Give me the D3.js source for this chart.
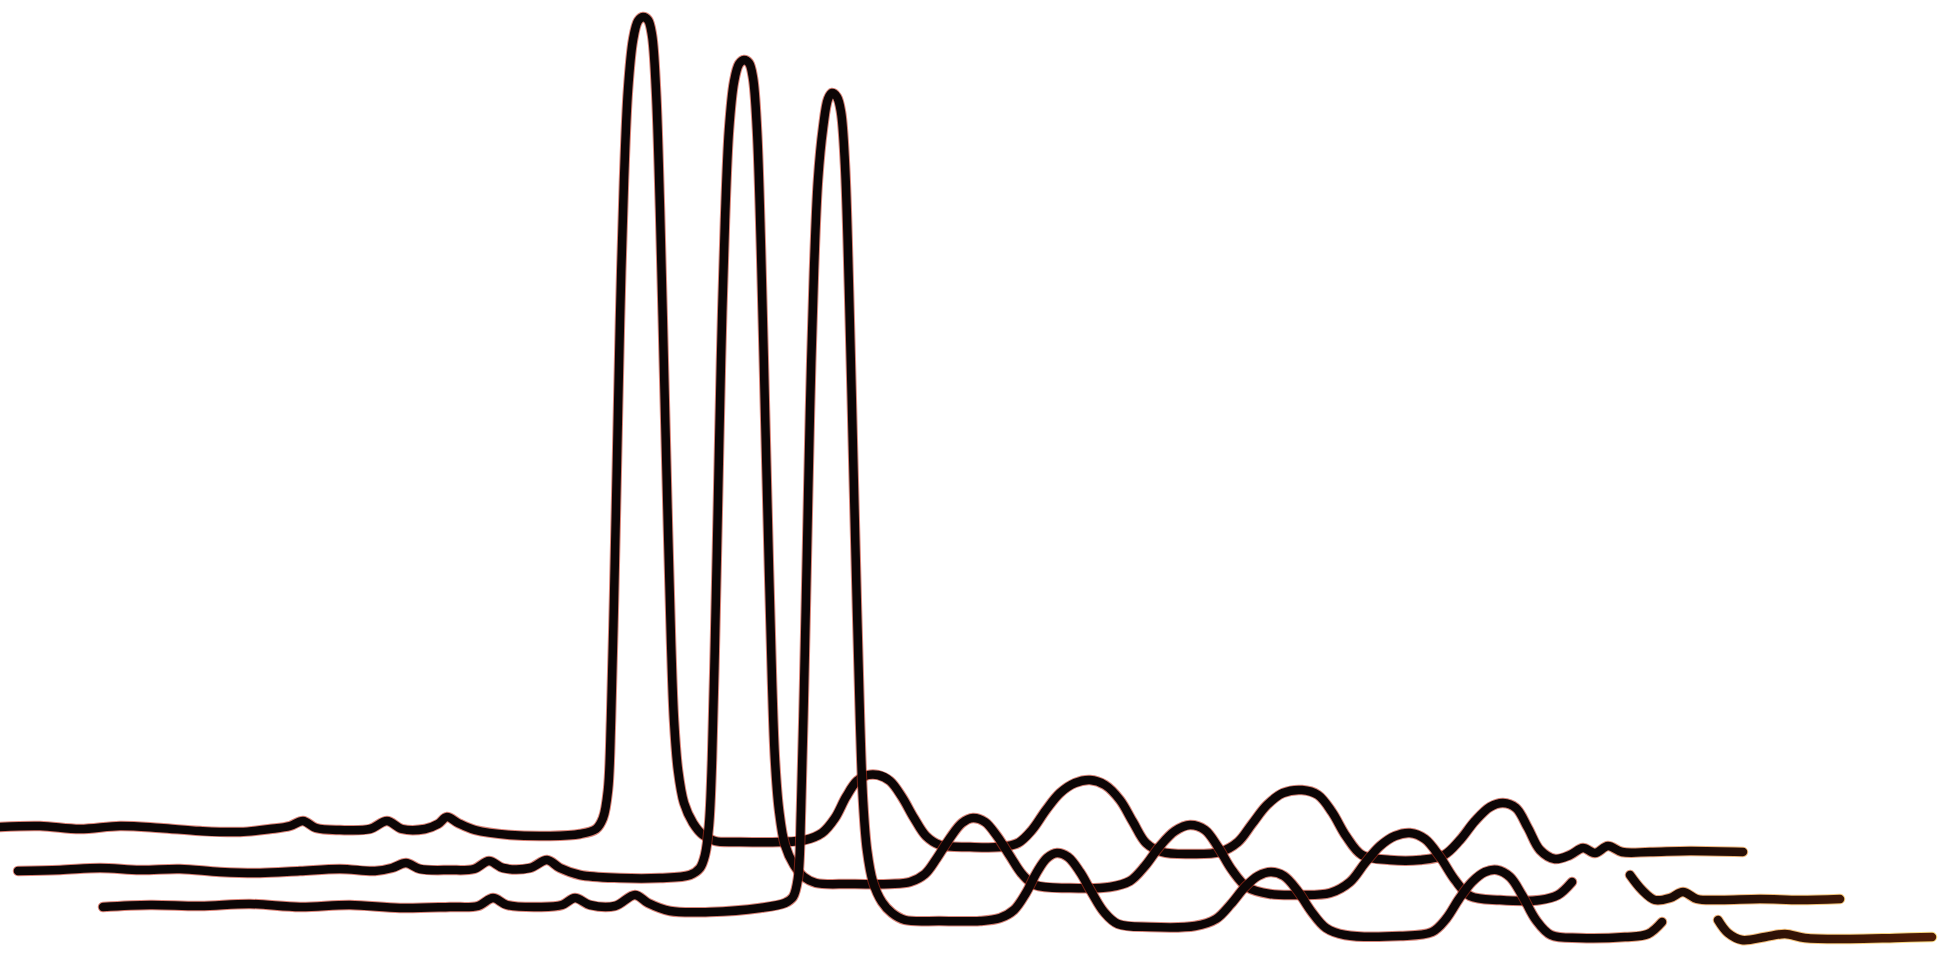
<!DOCTYPE html>
<html>
<head>
<meta charset="utf-8">
<title>Stacked chromatograms</title>
<script src="https://cdn.jsdelivr.net/npm/d3@7"></script>
<style>
  html, body { margin: 0; padding: 0; background: #ffffff; }
  svg { display: block; }
</style>
</head>
<body>
<svg id="chart" width="1954" height="960"></svg>
<script>
// time (arbitrary units) and detector signal for each run, signal relative to its own baseline
const run1 = [
  [0, 0], [2, 1], [4, -2], [6, 1], [8, -1], [10, -4], [12, -5], [13.5, -2], [14.5, 1],
  [15.15, 6], [15.8, -1], [17, -3], [18.5, -2], [19.35, 6], [20.1, -2], [21.25, -2],
  [21.9, 3], [22.35, 10], [22.9, 4], [23.75, -3], [25.5, -8], [27.5, -9], [29, -7],
  [29.8, -2], [30.15, 9], [30.4, 37], [30.55, 107], [30.7, 227], [30.85, 367], [31, 507],
  [31.2, 647], [31.4, 737], [31.65, 787], [31.9, 806], [32.15, 810], [32.4, 807],
  [32.6, 792], [32.8, 737], [33, 617], [33.2, 457], [33.4, 297], [33.55, 187],
  [33.7, 107], [33.9, 57], [34.2, 24], [34.65, 4], [35.15, -8], [35.75, -14], [37, -15],
  [39, -15], [40.25, -13], [41.1, -6], [41.75, 9], [42.3, 30], [42.85, 46], [43.4, 52],
  [43.9, 52], [44.5, 46], [45.1, 30], [45.7, 9], [46.3, -9], [47, -18], [48.5, -20],
  [50, -20], [50.9, -16], [51.6, -3], [52.3, 17], [53, 34], [53.75, 44], [54.5, 47],
  [55.25, 42], [56, 27], [56.65, 5], [57.3, -16], [58.1, -25], [59.5, -27], [61, -25],
  [61.9, -15], [62.6, 3], [63.35, 22], [64.15, 34], [65.1, 37], [65.9, 32], [66.6, 15],
  [67.3, -9], [68.1, -28], [69.5, -33], [71, -33], [72.2, -28], [73, -13], [73.75, 6],
  [74.5, 20], [75.15, 24], [75.8, 19], [76.4, -1], [77, -23], [77.75, -32], [78.5, -28],
  [79.15, -21], [79.75, -26], [80.4, -19], [81.1, -25], [82.5, -25], [84.5, -24], [87.15, -25]
];

const run2 = [
  [0.9, -1], [3, 0], [5, 2], [7, 0], [9, 1], [11, -2], [13, -3], [15, -1], [17, 1],
  [18.75, -1], [19.6, 2], [20.3, 7], [21, 1], [22.5, 0], [23.7, 1], [24.45, 9],
  [25.15, 2], [26.5, 2], [27.35, 10], [28, 2], [29, -5], [31, -8], [33, -8], [34.5, -5],
  [35, 2], [35.25, 15], [35.45, 45], [35.6, 110], [35.75, 230], [35.9, 370], [36.05, 510],
  [36.25, 650], [36.45, 740], [36.7, 788], [36.95, 806], [37.2, 810], [37.45, 807],
  [37.65, 792], [37.85, 740], [38.05, 620], [38.25, 460], [38.45, 300], [38.6, 190],
  [38.75, 110], [38.95, 60], [39.25, 25], [39.7, 5], [40.2, -7], [40.8, -13], [42.5, -14],
  [44.5, -14], [45.5, -12], [46.25, -4], [46.85, 12], [47.5, 32], [48.1, 47], [48.65, 52],
  [49.25, 48], [49.85, 34], [50.5, 14], [51.1, -4], [51.75, -15], [53.5, -18], [55.5, -17],
  [56.5, -11], [57.25, 4], [58, 24], [58.75, 39], [59.5, 45], [60.25, 40], [60.9, 23],
  [61.6, 0], [62.35, -17], [63.5, -24], [65, -25], [66.5, -23], [67.5, -12], [68.25, 7],
  [69, 24], [69.75, 34], [70.5, 37], [71.25, 31], [72, 13], [72.75, -10], [73.5, -26],
  [75, -30], [77, -30], [77.9, -25], [78.6, -12], [79.5, null],
  [81.5, -5], [82.1, -20], [82.75, -30], [83.5, -28], [84.15, -22], [84.85, -29],
  [86, -30], [88, -29], [90, -30], [92, -29]
];

const run3 = [
  [5.15, -1], [7.5, 1], [10, 0], [12.5, 2], [15, -1], [17.5, 1], [20, -2], [22.5, -1],
  [23.9, 0], [24.65, 8], [25.35, 1], [27, -1], [28.1, 1], [28.75, 8], [29.5, 1],
  [30.75, 0], [31.75, 11], [32.4, 3], [33.5, -5], [35.5, -6], [38, -2], [39.25, 3],
  [39.65, 9], [39.9, 28], [40.05, 96], [40.2, 216], [40.35, 356], [40.5, 496], [40.7, 636],
  [40.9, 726], [41.15, 778], [41.4, 807], [41.6, 813], [41.85, 809], [42.05, 794],
  [42.25, 741], [42.45, 616], [42.65, 456], [42.85, 296], [43, 186], [43.15, 106],
  [43.35, 56], [43.65, 24], [44.1, 4], [44.6, -7], [45.25, -14], [47, -15], [49, -15],
  [50, -12], [50.7, -4], [51.3, 13], [51.85, 34], [52.35, 48], [52.85, 53], [53.4, 49],
  [54, 34], [54.6, 13], [55.2, -6], [55.9, -18], [57.5, -21], [59.75, -20], [60.8, -13],
  [61.55, 2], [62.25, 19], [62.9, 30], [63.55, 34], [64.2, 30], [64.85, 16], [65.55, -5],
  [66.3, -22], [67.25, -29], [70, -30], [71.6, -26], [72.3, -13], [72.95, 7], [73.6, 24],
  [74.25, 34], [74.85, 36], [75.5, 29], [76.1, 11], [76.8, -14], [77.55, -29], [79, -32],
  [81.25, -31], [82.4, -28], [83.1, -16], [84.5, null],
  [85.9, -14], [86.4, -27], [87.1, -34], [88.25, -31], [89.25, -28], [90.25, -32],
  [92.5, -33], [94.75, -32], [96.6, -31]
];

const runs = [run1, run2, run3];
// waterfall offset of each run (signal units)
const runOffsets = [0, -43, -79];

const width = 1954;
const height = 960;

const svg = d3.select("#chart");

const x = d3.scaleLinear().domain([0, 97.7]).range([0, width]);
const y = d3.scaleLinear().domain([0, 810]).range([827, 17]);

// scanned-ink look: reddish fringe, turning orange/brown at the right ends
const defs = svg.append("defs");

const fringe = defs.append("linearGradient")
  .attr("id", "fringe")
  .attr("gradientUnits", "userSpaceOnUse")
  .attr("x1", 0).attr("x2", width).attr("y1", 0).attr("y2", 0);
fringe.append("stop").attr("offset", "0%").attr("stop-color", "#c8321e");
fringe.append("stop").attr("offset", "80%").attr("stop-color", "#b8301c");
fringe.append("stop").attr("offset", "87%").attr("stop-color", "#e57a1c");
fringe.append("stop").attr("offset", "100%").attr("stop-color", "#f8c82a");

const core = defs.append("linearGradient")
  .attr("id", "core")
  .attr("gradientUnits", "userSpaceOnUse")
  .attr("x1", 0).attr("x2", width).attr("y1", 0).attr("y2", 0);
core.append("stop").attr("offset", "0%").attr("stop-color", "#0c0606");
core.append("stop").attr("offset", "82%").attr("stop-color", "#0c0606");
core.append("stop").attr("offset", "100%").attr("stop-color", "#541e06");

function drawRuns(group) {
  runs.forEach((run, i) => {
    const line = d3.line()
      .defined((d) => d[1] !== null)
      .x((d) => x(d[0]))
      .y((d) => y(d[1] + runOffsets[i]))
      .curve(d3.curveCatmullRom.alpha(0.5));

    // soft coloured edge under the ink
    group.append("path")
      .datum(run)
      .attr("d", line)
      .attr("fill", "none")
      .attr("stroke", "url(#fringe)")
      .attr("stroke-opacity", 0.6)
      .attr("stroke-width", 10.5)
      .attr("stroke-linecap", "round")
      .attr("stroke-linejoin", "round");

    group.append("path")
      .datum(run)
      .attr("class", "run")
      .attr("d", line)
      .attr("fill", "none")
      .attr("stroke", "url(#core)")
      .attr("stroke-width", 8.5)
      .attr("stroke-linecap", "round")
      .attr("stroke-linejoin", "round");
  });
}

drawRuns(svg.append("g"));
</script>
</body>
</html>
